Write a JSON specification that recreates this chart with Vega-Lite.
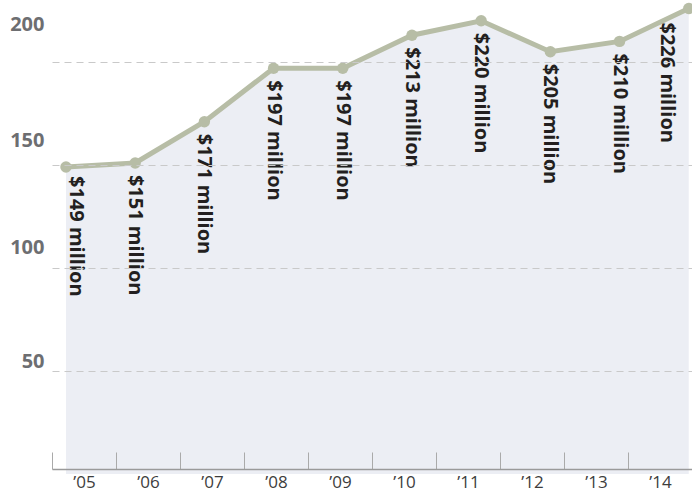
{
  "$schema": "https://vega.github.io/schema/vega-lite/v6.json",
  "autosize": "none",
  "width": 640,
  "height": 469,
  "padding": {"left": 52, "top": 0, "right": 0, "bottom": 23},
  "background": "white",
  "config": {"view": {"stroke": null}},
  "data": {
    "values": [
      {"year": 2005, "yr": "’05", "value": 149, "label": "$149 million"},
      {"year": 2006, "yr": "’06", "value": 151, "label": "$151 million"},
      {"year": 2007, "yr": "’07", "value": 171, "label": "$171 million"},
      {"year": 2008, "yr": "’08", "value": 197, "label": "$197 million"},
      {"year": 2009, "yr": "’09", "value": 197, "label": "$197 million"},
      {"year": 2010, "yr": "’10", "value": 213, "label": "$213 million"},
      {"year": 2011, "yr": "’11", "value": 220, "label": "$220 million"},
      {"year": 2012, "yr": "’12", "value": 205, "label": "$205 million"},
      {"year": 2013, "yr": "’13", "value": 210, "label": "$210 million"},
      {"year": 2014, "yr": "’14", "value": 226, "label": "$226 million"}
    ]
  },
  "layer": [
    {
      "layer": [
        {
          "mark": {"type": "area", "color": "#eceef4"},
          "encoding": {
            "x": {"field": "year", "type": "quantitative", "axis": null,
                  "scale": {"domain": [2004.798, 2014.047], "nice": false, "zero": false}},
            "y": {"field": "value", "type": "quantitative",
                  "scale": {"domain": [2.4, 230.1], "nice": false, "zero": false},
                  "axis": {
                    "title": null, "orient": "left", "domain": false, "ticks": false,
                    "grid": true, "gridDash": [7, 5], "gridColor": "#c9c9c9", "gridWidth": 1,
                    "values": [50, 100, 150, 200],
                    "labelFont": "Open Sans", "labelFontWeight": "bold", "labelFontSize": 20,
                    "labelColor": "#6d6e71", "labelPadding": 8, "labelBaseline": "middle",
                    "labelOffset": {
                      "condition": [
                        {"test": "datum.value === 200", "value": -37},
                        {"test": "datum.value === 150", "value": -24},
                        {"test": "datum.value === 100", "value": -20}
                      ],
                      "value": -9
                    },
                    "zindex": 1
                  }}
          }
        },
        {
          "mark": {"type": "line", "color": "#b7bda6", "strokeWidth": 5},
          "encoding": {
            "x": {"field": "year", "type": "quantitative"},
            "y": {"field": "value", "type": "quantitative"}
          }
        },
        {
          "mark": {"type": "point", "filled": true, "opacity": 1, "color": "#b7bda6", "size": 130},
          "encoding": {
            "x": {"field": "year", "type": "quantitative"},
            "y": {"field": "value", "type": "quantitative"}
          }
        },
        {
          "transform": [{"filter": "datum.year > 2005 && datum.year < 2014"}],
          "mark": {"type": "text", "angle": 90, "align": "left", "baseline": "middle", "dx": 12,
                   "font": "Open Sans", "fontWeight": "bold", "fontSize": 20, "color": "#231f20"},
          "encoding": {
            "x": {"field": "year", "type": "quantitative"},
            "y": {"field": "value", "type": "quantitative"},
            "text": {"field": "label"}
          }
        },
        {
          "transform": [{"filter": "datum.year == 2005"}],
          "mark": {"type": "text", "angle": 90, "align": "left", "baseline": "middle", "dx": 9, "dy": -10,
                   "font": "Open Sans", "fontWeight": "bold", "fontSize": 20, "color": "#231f20"},
          "encoding": {
            "x": {"field": "year", "type": "quantitative"},
            "y": {"field": "value", "type": "quantitative"},
            "text": {"field": "label"}
          }
        },
        {
          "transform": [{"filter": "datum.year == 2014"}],
          "mark": {"type": "text", "angle": 90, "align": "left", "baseline": "middle", "dx": 14, "dy": 22,
                   "font": "Open Sans", "fontWeight": "bold", "fontSize": 20, "color": "#231f20"},
          "encoding": {
            "x": {"field": "year", "type": "quantitative"},
            "y": {"field": "value", "type": "quantitative"},
            "text": {"field": "label"}
          }
        }
      ]
    },
    {
      "mark": {"type": "rect", "opacity": 0},
      "encoding": {
        "x": {"field": "yr", "type": "ordinal", "sort": null,
              "scale": {"paddingInner": 0, "paddingOuter": 0},
              "axis": {
                "title": null, "orient": "bottom", "domain": true, "domainColor": "#9a9a9a", "domainWidth": 1.5,
                "ticks": true, "tickBand": "extent", "tickSize": -17, "tickColor": "#aaaaaa", "tickWidth": 1,
                "labelAngle": 0, "labelFont": "Open Sans", "labelFontSize": 17, "labelColor": "#3d3d3d",
                "labelPadding": 30, "labelBaseline": "middle", "grid": false
              }}
      }
    }
  ],
  "resolve": {"scale": {"x": "independent"}, "axis": {"x": "independent"}}
}
